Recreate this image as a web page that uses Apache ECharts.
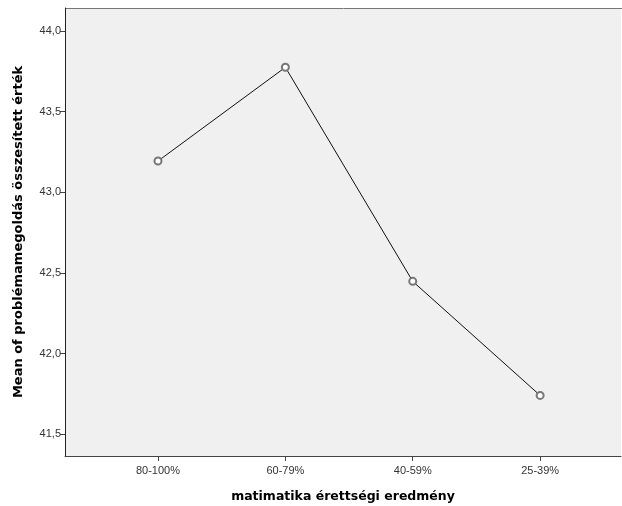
<!DOCTYPE html>
<html><head><meta charset="utf-8">
<script src="https://cdn.jsdelivr.net/npm/echarts@6/dist/echarts.min.js"></script>
<style>html,body{margin:0;padding:0;background:#fff}#c{width:622px;height:506px}</style>
</head><body><div id="c"></div>
<script>
const categories = ['80-100%', '60-79%', '40-59%', '25-39%'];
const means = [43.194, 43.775, 42.448, 41.741];
const yTicks = [41.5, 42.0, 42.5, 43.0, 43.5, 44.0];
const xTitle = 'matimatika érettségi eredmény';
const yTitle = 'Mean of problémamegoldás összesített érték';

const positions = categories.map((c, i) => i + 1);
const chart = echarts.init(document.getElementById('c'));
chart.setOption({
  animation: false,
  grid: { left: 65, top: 8, right: 1, bottom: 50, show: true, backgroundColor: '#f0f0f0', borderWidth: 0, outerBoundsMode: 'none', containLabel: false },
  xAxis: {
    type: 'value', min: 0.27, max: 4.635,
    name: xTitle, nameLocation: 'middle', nameGap: 34,
    nameTextStyle: { fontFamily: 'DejaVu Sans', fontWeight: 'bold', fontSize: 12.5, color: '#000' },
    axisLine: { show: true, lineStyle: { color: '#444', width: 1 } },
    axisTick: { show: true, customValues: positions, length: 5, lineStyle: { color: '#444' } },
    axisLabel: { customValues: positions, formatter: v => categories[Math.round(v) - 1] || '', fontFamily: 'Liberation Sans', fontSize: 11, color: '#333', margin: 9 },
    splitLine: { show: false }
  },
  yAxis: {
    type: 'value', min: 41.3655, max: 44.1426,
    name: yTitle, nameLocation: 'middle', nameGap: 40,
    nameTextStyle: { fontFamily: 'DejaVu Sans', fontWeight: 'bold', fontSize: 13, color: '#000' },
    axisLine: { show: true, lineStyle: { color: '#222', width: 1 } },
    axisTick: { show: true, customValues: yTicks, length: 5, lineStyle: { color: '#444' } },
    axisLabel: { customValues: yTicks, formatter: v => v.toFixed(1).replace('.', ','), fontFamily: 'Liberation Sans', fontSize: 11, color: '#333', margin: 4 },
    splitLine: { show: false }
  },
  series: [{
    type: 'line',
    data: positions.map((p, i) => [p, means[i]]),
    symbol: 'emptyCircle', symbolSize: 7,
    lineStyle: { color: '#111', width: 1 },
    itemStyle: { color: '#777', borderColor: '#777', borderWidth: 1 }
  }],
  graphic: [{ type: 'line', shape: { x1: 65, y1: 8.5, x2: 622, y2: 8.5 }, style: { stroke: '#777', lineWidth: 1 } }]
});
</script></body></html>
